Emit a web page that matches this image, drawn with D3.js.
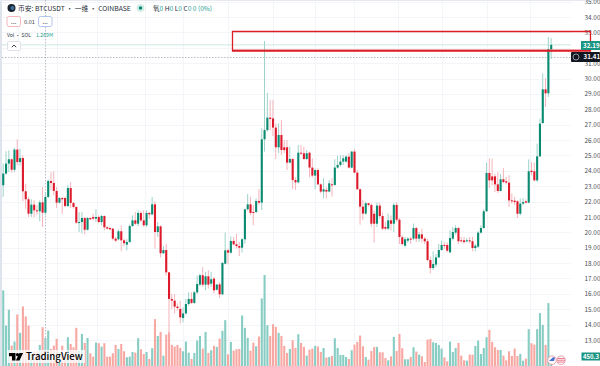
<!DOCTYPE html>
<html>
<head>
<meta charset="utf-8">
<script src="https://cdn.jsdelivr.net/npm/d3@7"></script>
<style>
  html, body { margin: 0; padding: 0; background: #fff; }
  svg { display: block; }
  text { font-family: "Noto Sans CJK SC", "Noto Sans", sans-serif; }
</style>
</head>
<body>
<svg id="chart"></svg>
<script>
// weekly candles
const opens = [
  23.06,23.82,24.47,24.75,24.07,25.38,24.57,24.83,22.67,22.15,21.21,21.80,21.43,21.37,21.95,21.28,22.30,23.34,23.21,22.69,
  21.93,22.23,22.23,21.71,22.88,21.91,21.65,20.63,20.67,20.93,20.17,20.93,21.00,20.89,21.00,20.67,21.06,20.33,20.28,20.24,
  19.59,19.55,20.07,19.48,19.20,19.37,20.41,20.78,20.56,21.26,20.78,20.46,21.26,21.17,21.82,20.02,20.39,18.64,18.85,17.40,
  15.67,15.56,15.17,15.02,14.43,14.73,15.34,15.67,15.41,16.10,16.60,17.21,16.60,17.14,16.66,16.99,16.27,16.62,15.97,17.96,
  18.83,18.68,19.44,19.22,19.11,19.00,19.55,21.50,21.82,21.32,21.32,22.04,21.93,26.05,26.65,27.46,27.41,26.81,25.53,26.33,
  25.53,25.53,24.53,24.77,23.40,23.25,25.18,25.14,24.77,25.18,24.21,23.69,24.05,23.12,22.65,22.76,22.65,23.12,23.08,24.21,
  24.38,24.60,24.60,24.92,24.21,25.25,23.88,22.80,21.67,21.22,21.89,21.78,21.21,20.56,21.74,21.06,20.35,20.24,20.78,20.56,
  21.78,20.82,19.68,19.13,19.46,19.59,19.59,20.28,19.59,19.87,19.59,19.42,18.20,17.68,17.90,18.37,18.85,19.18,19.18,18.70,
  19.59,19.98,20.28,19.48,19.48,19.42,19.48,19.42,18.98,19.07,19.98,20.28,21.37,23.86,23.64,23.64,23.12,22.69,23.45,23.32,
  23.23,22.08,22.06,22.02,21.21,21.87,22.02,21.93,24.01,23.97,23.38,24.94,27.11,29.30,29.04,31.90
];
const highs = [
  24.47,25.27,25.33,24.79,25.48,26.05,25.44,25.00,23.16,22.30,22.15,22.08,21.76,22.08,22.95,22.62,23.45,23.92,23.97,22.95,
  22.30,22.30,22.32,23.06,23.27,21.97,21.71,21.32,21.32,21.00,21.00,20.97,21.21,21.50,21.11,21.15,21.11,20.41,20.35,20.28,
  19.70,20.20,20.46,19.59,19.55,20.50,21.11,21.32,21.43,21.37,21.43,21.43,21.32,22.30,22.02,20.67,20.46,19.13,19.24,17.40,
  15.99,15.99,15.38,15.56,15.13,15.67,16.10,16.10,16.21,17.18,17.31,17.75,17.42,17.53,17.42,17.10,16.66,16.77,18.07,19.98,
  18.94,19.74,19.70,19.91,19.37,19.63,21.54,22.49,22.32,21.78,22.21,22.80,26.76,32.44,29.08,28.60,28.60,27.09,27.09,27.30,
  26.00,26.00,25.57,24.81,23.58,25.68,25.68,25.57,25.35,25.25,24.81,24.16,24.16,23.19,23.51,22.93,23.40,23.51,24.75,24.99,
  25.03,25.03,25.03,25.14,25.29,25.40,24.05,22.86,22.10,22.00,21.93,21.89,21.43,21.93,21.93,21.30,20.67,21.21,21.10,21.90,
  21.95,20.95,19.81,19.70,19.70,19.70,20.57,20.35,20.02,20.24,19.70,19.59,18.42,18.77,18.59,19.24,19.46,19.35,19.35,20.13,
  20.35,20.46,20.35,19.70,19.70,19.63,19.70,19.70,19.24,20.07,20.46,21.50,24.53,24.79,24.79,23.81,23.92,23.81,24.18,23.60,
  23.71,22.52,22.30,22.08,22.19,22.23,22.15,24.75,24.57,24.53,25.77,27.40,30.33,30.03,32.70,32.64
];
const lows = [
  22.30,23.75,23.92,23.88,23.92,24.36,24.36,22.02,21.54,21.00,21.00,21.00,21.11,20.72,20.35,21.11,22.23,22.73,22.41,21.58,
  21.87,21.21,21.63,21.65,21.58,21.54,20.56,20.02,19.92,19.85,20.11,20.80,20.78,20.67,20.59,20.46,20.13,20.20,20.13,19.48,
  19.37,19.48,18.77,19.11,18.83,19.33,20.35,20.46,20.41,20.67,20.35,20.35,20.89,21.11,18.94,19.70,18.37,18.59,17.18,13.35,
  15.02,14.73,14.91,14.08,14.15,14.65,15.23,15.34,15.34,15.99,16.51,16.45,16.23,16.34,16.45,16.01,16.21,15.73,15.91,17.92,
  17.92,18.61,19.16,18.94,18.46,18.68,19.26,21.41,21.11,20.46,21.24,21.78,21.45,25.25,26.55,26.65,26.26,24.75,25.14,25.03,
  25.14,24.05,24.49,22.80,22.76,23.19,25.03,24.70,24.70,23.58,23.56,22.80,23.08,22.54,22.21,22.21,22.60,22.32,23.04,24.14,
  24.27,24.38,24.53,24.16,24.16,23.84,22.76,20.50,20.80,21.13,21.67,20.35,19.33,20.35,20.89,20.13,20.13,20.13,20.13,20.02,
  20.67,19.24,19.13,19.02,19.33,19.24,19.48,19.37,19.37,19.33,19.24,18.11,17.34,17.55,17.73,18.33,18.81,18.92,18.70,18.64,
  19.48,19.85,19.24,19.33,19.24,19.33,19.29,18.77,18.77,18.98,19.92,20.24,21.33,22.88,23.06,22.62,22.56,22.65,23.19,23.10,
  21.65,21.87,21.76,20.93,21.11,21.76,21.87,21.89,23.71,23.32,23.27,24.90,27.05,28.15,28.80,31.27
];
const closes = [
  23.82,24.47,24.75,24.07,25.38,24.57,24.83,22.67,22.15,21.21,21.80,21.43,21.37,21.95,21.28,22.30,23.34,23.21,22.69,21.93,
  22.23,22.15,21.71,22.88,21.91,21.65,20.63,20.67,20.93,20.17,20.93,20.85,20.89,21.00,20.67,21.06,20.33,20.24,20.20,19.59,
  19.46,20.07,19.48,19.29,19.37,20.41,20.78,20.56,21.26,20.78,20.46,21.26,21.17,21.82,20.02,20.39,18.64,18.85,17.40,15.67,
  15.56,15.17,15.08,14.47,14.73,15.34,15.67,15.41,16.10,16.64,17.21,16.60,17.14,16.60,16.95,16.23,16.60,15.97,18.01,18.83,
  18.68,19.44,19.22,19.11,19.00,19.55,21.50,21.82,21.26,21.26,22.04,21.93,26.05,26.65,27.46,27.37,26.81,25.53,26.33,25.35,
  25.35,24.53,24.77,23.40,23.25,25.18,25.14,24.77,25.14,24.21,23.69,24.05,23.12,22.65,22.80,22.65,23.19,23.08,24.21,24.38,
  24.60,24.81,24.92,24.21,25.25,23.88,22.80,21.67,21.22,21.89,21.78,20.56,20.56,21.74,21.06,20.24,20.24,20.78,20.56,21.78,
  20.82,19.70,19.24,19.55,19.59,19.52,20.28,19.59,19.87,19.59,19.42,18.20,17.68,17.94,18.37,18.85,19.18,19.13,18.81,19.63,
  20.02,20.28,19.42,19.42,19.37,19.48,19.42,18.98,19.13,19.98,20.28,21.37,23.86,23.38,23.38,23.12,22.69,23.45,23.27,23.23,
  22.08,22.02,21.97,21.21,21.87,21.97,21.93,23.97,23.92,23.38,24.94,27.07,29.30,29.04,31.90,32.19
];
// volume in thousands
const volumes = [
  3343,1810,2497,934,1110,2292,1489,2643,2205,1810,569,686,686,964,1737,1269,1591,788,934,1226,
  642,934,569,1299,1007,861,1708,715,1445,1051,1270,599,453,1066,1037,891,1037,453,453,599,
  964,788,1007,686,423,453,657,628,1256,774,569,657,350,818,2088,1358,1533,496,1416,1518,
  964,891,964,832,686,1110,628,350,613,1153,1358,803,1533,613,730,920,876,1241,1577,2044,
  555,1095,715,774,788,2248,1708,1270,715,1066,905,1329,2993,4015,1825,1358,1869,1752,1489,1358,
  920,613,788,1168,832,1431,1051,876,496,759,803,920,891,657,832,409,438,482,1256,832,
  526,526,438,350,730,978,1095,1372,905,438,321,701,876,876,642,642,394,292,467,1314,
  701,1445,818,336,336,438,861,672,540,467,219,1197,1226,1080,1051,964,803,423,248,1110,
  657,832,1051,496,292,277,540,540,920,1153,569,832,1299,1621,1095,861,745,745,496,292,
  686,482,803,482,569,277,365,1650,1037,978,1650,2351,1840,964,2789,450
];
const priceTicks = [35,34,33,32,31,30,29,28,27,26,25,24,23,22,21,20,19,18,17,16,15,14,13];
const gridDays = [18,57,97,145,183,228,273,315,354,398,442,487,530];

const width = 600, height = 366;
const svg = d3.select('#chart').attr('width', width).attr('height', height);

const x = d3.scaleLinear().domain([0, opens.length - 1]).range([3.2, 551.15]);
const y = d3.scaleLinear().domain([13, 35]).range([340, 1.64]);
const yVol = d3.scaleLinear().domain([0, 4015]).range([367, 275]);

const green = '#0a8a70', red = '#dc1a2c';
const wickGreen = '#9dd3ca', wickRed = '#f6b4bb';
const volGreen = '#88cdc3', volRed = '#f8a8a3';

// grid
svg.append('g').selectAll('line').data(priceTicks).join('line')
  .attr('x1', 2).attr('x2', 571)
  .attr('y1', (d) => Math.round(y(d)) + 0.5).attr('y2', (d) => Math.round(y(d)) + 0.5)
  .attr('stroke', '#f3f5f9');
svg.append('g').selectAll('line').data(gridDays).join('line')
  .attr('x1', (d) => d + 0.5).attr('x2', (d) => d + 0.5)
  .attr('y1', 0).attr('y2', height)
  .attr('stroke', '#f3f5f9');

// frame on the left and top
svg.append('rect').attr('x', 0).attr('y', 0).attr('width', 2).attr('height', height).attr('fill', '#dfe3ec');
svg.append('rect').attr('x', 0).attr('y', 0).attr('width', width).attr('height', 1).attr('fill', '#e6e9f0');

const idx = d3.range(opens.length);

// volume bars
svg.append('g').selectAll('rect').data(idx).join('rect')
  .attr('x', (i) => x(i) - 1)
  .attr('width', 2.1)
  .attr('y', (i) => yVol(volumes[i]))
  .attr('height', (i) => yVol(0) - yVol(volumes[i]))
  .attr('fill', (i) => (closes[i] >= opens[i] ? volGreen : volRed));

// crosshair + price lines
svg.append('line').attr('x1', 45.5).attr('x2', 45.5).attr('y1', 0).attr('y2', height)
  .attr('stroke', '#b8bcc6').attr('stroke-dasharray', '1.5 1.5');
svg.append('line').attr('x1', 2).attr('x2', 571).attr('y1', y(32.19)).attr('y2', y(32.19))
  .attr('stroke', '#cfe8e3');
svg.append('line').attr('x1', 2).attr('x2', 571).attr('y1', 57.5).attr('y2', 57.5)
  .attr('stroke', '#b8bcc6').attr('stroke-dasharray', '1.5 1.5');

// wicks
svg.append('g').selectAll('line').data(idx).join('line')
  .attr('x1', (i) => x(i)).attr('x2', (i) => x(i))
  .attr('y1', (i) => y(highs[i])).attr('y2', (i) => y(lows[i]))
  .attr('stroke', (i) => (closes[i] >= opens[i] ? wickGreen : wickRed))
  .attr('stroke-width', 1);

// candle bodies
svg.append('g').selectAll('rect').data(idx).join('rect')
  .attr('x', (i) => x(i) - 1)
  .attr('width', 2.1)
  .attr('y', (i) => y(Math.max(opens[i], closes[i])))
  .attr('height', (i) => Math.max(1, Math.abs(y(opens[i]) - y(closes[i]))))
  .attr('fill', (i) => (closes[i] >= opens[i] ? green : red));

// price axis
const axis = svg.append('g').attr('transform', 'translate(584.5,0)')
  .call(d3.axisRight(y).tickValues(priceTicks).tickSize(0).tickPadding(0).tickFormat(d3.format('.2f')));
axis.select('.domain').remove();
axis.selectAll('text').attr('fill', '#4a4e58').attr('font-size', 6.4).attr('font-family', '"Noto Sans", sans-serif');

// legend
const legend = svg.append('g');
legend.append('circle').attr('cx', 11.5).attr('cy', 8).attr('r', 4).attr('fill', '#1c2430');
legend.append('circle').attr('cx', 12.5).attr('cy', 8).attr('r', 2).attr('fill', '#3a6f9c');
legend.append('text').attr('x', 18).attr('y', 11).attr('font-size', 6.8).attr('fill', '#2a2e39')
  .text('币安: BTCUSDT · 一维 · COINBASE');
legend.append('circle').attr('cx', 140.5).attr('cy', 8).attr('r', 4).attr('fill', '#d6eeea');
legend.append('circle').attr('cx', 140.5).attr('cy', 8).attr('r', 1.8).attr('fill', green);

const ohlc = legend.append('text').attr('x', 153).attr('y', 11).attr('font-size', 6.6).attr('fill', '#2a2e39');
[['氧', 0], ['0 ', 1], ['H', 0], ['0 ', 1], ['L', 0], ['0 ', 1], ['C', 0], ['0 0 (0%)', 1]].forEach(([t, teal]) => {
  ohlc.append('tspan').text(t).attr('fill', teal ? '#26a08d' : '#2a2e39').attr('xml:space', 'preserve');
});

legend.append('rect').attr('x', 7).attr('y', 16.5).attr('width', 13.5).attr('height', 10).attr('rx', 2)
  .attr('fill', '#fff').attr('stroke', '#f4b6bb');
legend.append('text').attr('x', 13.7).attr('y', 23.5).attr('text-anchor', 'middle').attr('font-size', 6.5).attr('fill', '#555').text('...');
legend.append('text').attr('x', 24).attr('y', 23.5).attr('font-size', 5.6).attr('fill', '#444').text('0.01');
legend.append('rect').attr('x', 38.5).attr('y', 16.5).attr('width', 13.5).attr('height', 10).attr('rx', 2)
  .attr('fill', '#fff').attr('stroke', '#b4c4ee');
legend.append('text').attr('x', 45.2).attr('y', 23.5).attr('text-anchor', 'middle').attr('font-size', 6.5).attr('fill', '#555').text('...');

legend.append('text').attr('x', 7).attr('y', 36.5).attr('font-size', 5).attr('fill', '#2a2e39').text('Vol · SOL');
legend.append('text').attr('x', 36).attr('y', 36.5).attr('font-size', 5.2).attr('fill', '#26a08d').text('1.269M');

legend.append('rect').attr('x', 7.5).attr('y', 41.5).attr('width', 13).attr('height', 9).attr('rx', 1.5)
  .attr('fill', '#fff').attr('stroke', '#dfe2ea');
legend.append('path').attr('d', 'M11.8 47.2 L14 45 L16.2 47.2').attr('fill', 'none').attr('stroke', '#2a2e39').attr('stroke-width', 0.9);

// annotation box
svg.append('path').attr('d', 'M232.5 31.5 H590.5 V50.5 H232.5 Z').attr('fill', 'none').attr('stroke', '#dc1f26').attr('stroke-width', 1.3);
svg.append('rect').attr('x', 232).attr('y', 49.8).attr('width', 359).attr('height', 1.9).attr('fill', '#dc1f26');

// price tags
svg.append('rect').attr('x', 581).attr('y', 41).attr('width', 19).attr('height', 9).attr('fill', '#1a9683');
svg.append('text').attr('x', 583).attr('y', 47.8).attr('font-size', 6.2).attr('font-weight', 600).attr('fill', '#fff').attr('font-family', '"Noto Sans", sans-serif').text('32.19');
svg.append('rect').attr('x', 571).attr('y', 52).attr('width', 29).attr('height', 10).attr('rx', 1).attr('fill', '#131722');
svg.append('circle').attr('cx', 576).attr('cy', 57).attr('r', 3).attr('fill', 'none').attr('stroke', '#c9ccd4').attr('stroke-width', 0.7);
svg.append('text').attr('x', 583.5).attr('y', 59.4).attr('font-size', 6.2).attr('font-weight', 600).attr('fill', '#fff').attr('font-family', '"Noto Sans", sans-serif').text('31.41');
svg.append('rect').attr('x', 581.5).attr('y', 352.5).attr('width', 18.5).attr('height', 8).attr('fill', '#1a9683');
svg.append('text').attr('x', 583).attr('y', 358.6).attr('font-size', 6).attr('font-weight', 600).attr('fill', '#fff').attr('font-family', '"Noto Sans", sans-serif').text('450.3');

// flag icon near the axis
svg.append('circle').attr('cx', 552).attr('cy', 360.2).attr('r', 4.3).attr('fill', '#fff').attr('stroke', '#e88a9c').attr('stroke-width', 0.8);
svg.append('circle').attr('cx', 561).attr('cy', 360.2).attr('r', 4.3).attr('fill', '#fff').attr('stroke', '#e88a9c').attr('stroke-width', 0.8);
svg.append('path').attr('d', 'M549 361 L553 357.2 L555 357.6 L554 361 Z').attr('fill', '#4a6fd0');
svg.append('path').attr('d', 'M557.5 358.4 H564.5 M557 360.2 H565 M557.5 362 H564.5').attr('stroke', '#e2566e').attr('stroke-width', 0.8);

// TradingView logo
const logo = svg.append('g');
logo.append('rect').attr('x', 7).attr('y', 350).attr('width', 78).attr('height', 13).attr('fill', '#fff').attr('opacity', 0.75);
logo.append('path').attr('d', 'M9 353 H15.5 V360.5 H12 V356.2 H9 Z').attr('fill', '#000');
logo.append('circle').attr('cx', 17.5).attr('cy', 354.7).attr('r', 1.6).attr('fill', '#000');
logo.append('path').attr('d', 'M19.5 353 H23 L19.5 360.5 H15.8 Z').attr('fill', '#000');
logo.append('text').attr('x', 26).attr('y', 360).attr('font-size', 9.6).attr('font-weight', 500)
  .attr('font-family', 'Inter, sans-serif').attr('fill', '#000').text('TradingView');
</script>
</body>
</html>
